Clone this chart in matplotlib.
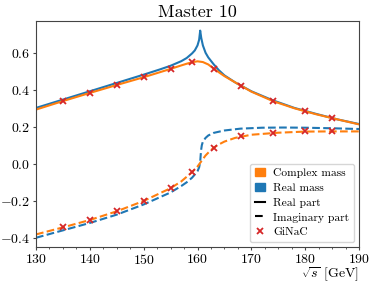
import matplotlib
matplotlib.use("Agg")
import matplotlib.pyplot as plt
from matplotlib.patches import Patch
from matplotlib.lines import Line2D
from matplotlib.ticker import MultipleLocator

plt.rcParams['font.family'] = 'serif'
plt.rcParams['font.serif'] = ['cmr10']
plt.rcParams['mathtext.fontset'] = 'cm'
plt.rcParams['axes.formatter.use_mathtext'] = True

title = "Master 10"

# Real mass, real part (blue solid)
x_rm_re = [130,135,140,145,150,153,155,157,158,159,159.5,160,160.3,160.5,160.7,161,161.5,162,163,164,165,167,170,174,178,182,186,190]
y_rm_re = [0.302,0.347,0.392,0.437,0.482,0.510,0.530,0.555,0.572,0.597,0.613,0.640,0.670,0.72,0.68,0.64,0.60,0.575,0.538,0.505,0.478,0.44,0.392,0.343,0.302,0.27,0.24,0.215]

# Complex mass, real part (orange solid)
x_cm_re = [130,135,140,145,150,155,157,158,159,160,161,162,163,164,165,167,170,174,178,182,186,190]
y_cm_re = [0.293,0.339,0.383,0.426,0.468,0.513,0.532,0.541,0.549,0.554,0.550,0.537,0.515,0.494,0.474,0.44,0.39,0.339,0.30,0.268,0.24,0.213]

# Real mass, imaginary part (blue dashed)
x_rm_im = [130,135,140,145,150,155,157,158,159,159.5,160,160.3,160.5,160.6,160.7,160.8,161,161.5,162,163,165,168,172,176,180,185,190]
y_rm_im = [-0.40,-0.36,-0.32,-0.275,-0.22,-0.155,-0.12,-0.10,-0.075,-0.058,-0.04,-0.02,0.01,0.05,0.08,0.10,0.12,0.14,0.153,0.167,0.18,0.19,0.195,0.196,0.195,0.192,0.188]

# Complex mass, imaginary part (orange dashed)
x_cm_im = [130,135,140,145,150,155,157,159,160,160.5,161,161.5,162,163,164,165,167,170,175,180,185,190]
y_cm_im = [-0.382,-0.344,-0.304,-0.257,-0.201,-0.132,-0.095,-0.045,-0.015,0.005,0.025,0.045,0.06,0.087,0.105,0.12,0.14,0.157,0.168,0.174,0.175,0.175]

# GiNaC points
x_g = [135,140,145,150,155,159,163,168,174,180,185]
y_g_re = [0.339,0.383,0.426,0.468,0.513,0.549,0.515,0.419,0.339,0.283,0.247]
y_g_im = [-0.344,-0.304,-0.257,-0.201,-0.132,-0.045,0.087,0.149,0.166,0.175,0.175]

legend_labels = ["Complex mass", "Real mass", "Real part", "Imaginary part", "GiNaC"]

fig = plt.figure(figsize=(3.74, 2.86), dpi=100)
ax = fig.add_axes([36/374, 1-247/286, (359-36)/374, (247-21)/286])

c_blue = '#1f77b4'
c_orange = '#ff7f0e'
c_red = '#d62728'
ax.plot(x_rm_re, y_rm_re, color=c_blue, lw=1.5)
ax.plot(x_cm_re, y_cm_re, color=c_orange, lw=1.5)
ax.plot(x_rm_im, y_rm_im, color=c_blue, lw=1.5, ls='--')
ax.plot(x_cm_im, y_cm_im, color=c_orange, lw=1.5, ls='--')
ax.plot(x_g, y_g_re, ls='none', marker='x', color=c_red, ms=5, mew=1.3)
ax.plot(x_g, y_g_im, ls='none', marker='x', color=c_red, ms=5, mew=1.3)

ax.set_xlim(130, 190)
ax.set_ylim(-0.45, 0.772)
ax.set_xticks([130,140,150,160,170,180,190])
ax.set_yticks([-0.4,-0.2,0.0,0.2,0.4,0.6])
ax.xaxis.set_minor_locator(MultipleLocator(2.5))
ax.tick_params(labelsize=10, color='#444444', length=2.5, pad=1.5)
ax.tick_params(which='minor', length=1.5, color='#444444')
for s in ax.spines.values():
    s.set_color('#444444')
ax.set_title(title, fontsize=13, pad=3)
ax.set_xlabel(r"$\sqrt{s}$ [GeV]", loc='right', fontsize=10, labelpad=-1)

handles = [Patch(color=c_orange), Patch(color=c_blue),
           Line2D([], [], color='k', lw=1.5),
           Line2D([], [], color='k', lw=1.5, ls='--'),
           Line2D([], [], ls='none', marker='x', color=c_red, ms=5, mew=1.3)]
ax.legend(handles, legend_labels, loc='lower right', fontsize=8.3, handlelength=0.9,
          handletextpad=0.7, borderpad=0.4, labelspacing=0.4, borderaxespad=0.45)

fig.savefig("out.png", dpi=100)
